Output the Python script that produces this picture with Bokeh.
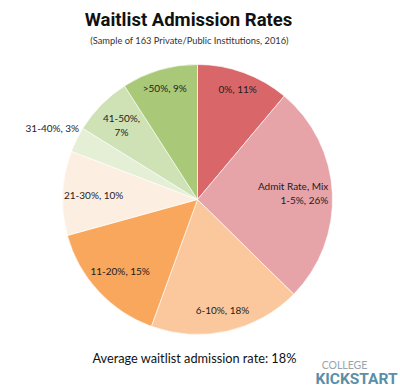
import math
from bokeh.plotting import figure
from bokeh.models import ColumnDataSource, Range1d, Label
from bokeh.core.properties import value
from bokeh.embed import file_html
from bokeh.resources import INLINE

# ---- data ----
categories = ["0%", "1-5%", "6-10%", "11-20%", "21-30%", "31-40%", "41-50%", ">50%"]
shares = [11, 26, 18, 15, 10, 3, 7, 9]
label_texts = ["0%, 11%", "Admit Rate, Mix\n1-5%, 26%", "6-10%, 18%", "11-20%, 15%",
               "21-30%, 10%", "31-40%, 3%", "41-50%,\n7%", ">50%, 9%"]
average_rate = 18

# ---- styles ----
colors = ["#d9676a", "#e6a3a8", "#fbc89e", "#f8a75c", "#fcefe2", "#e5efd5", "#cee2b6", "#a9c978"]
label_radius = [0.87, 0.97, 0.84, 0.78, 0.77, 1.2, 0.79, 0.86]
label_align = ["center", "right", "center", "center", "center", "center", "center", "center"]

W, H = 400, 388
cx, cy, R = 197, 189, 135

total = float(sum(shares))
starts, ends, lx, ly = [], [], [], []
acc = 0.0
for s, rf in zip(shares, label_radius):
    a0 = acc / total * 2 * math.pi
    acc += s
    a1 = acc / total * 2 * math.pi
    starts.append(math.pi / 2 - a0)
    ends.append(math.pi / 2 - a1)
    mid = (a0 + a1) / 2
    lx.append(cx + rf * R * math.sin(mid))
    ly.append(cy + rf * R * math.cos(mid))

src = ColumnDataSource(dict(cat=categories, share=shares, start=starts, end=ends,
                            color=colors, lx=lx, ly=ly, text=label_texts, align=label_align))

p = figure(width=W, height=H, output_backend="svg", toolbar_location=None,
           x_range=Range1d(0, W), y_range=Range1d(0, H), min_border=0)
p.axis.visible = False
p.grid.visible = False
p.outline_line_color = None
p.background_fill_color = "white"
p.border_fill_color = "white"

p.wedge(x=cx, y=cy, radius=R, start_angle="start", end_angle="end", direction="clock",
        fill_color="color", line_color="white", line_width=1, line_alpha=0.6, source=src)

p.text(x="lx", y="ly", text="text", source=src, text_align="align", text_baseline="middle",
       text_font=value("Lato"), text_font_size="10px", text_color="#241c1c", text_line_height=1.15)

p.add_layout(Label(x=188, y=369, text="Waitlist Admission Rates", text_align="center",
                   text_baseline="middle", text_font="Roboto",
                   text_font_style="bold", text_font_size="18.5px", text_color="#111111"))
p.add_layout(Label(x=189, y=348, text="(Sample of 163 Private/Public Institutions, 2016)",
                   text_align="center", text_baseline="middle", text_font="Lato",
                   text_font_size="9.3px", text_color="#333333"))
p.add_layout(Label(x=194, y=31, text="Average waitlist admission rate: %d%%" % average_rate,
                   text_align="center", text_baseline="middle", text_font="Lato",
                   text_font_size="12.75px", text_color="#111111"))
p.add_layout(Label(x=344, y=24, text="COLLEGE", text_align="center", text_baseline="middle",
                   text_font="Lato", text_font_size="10.5px", text_color="#9aa4a8"))
p.add_layout(Label(x=356, y=10, text="KICKSTART", text_align="center", text_baseline="middle",
                   text_font="Roboto", text_font_style="bold", text_font_size="15.5px",
                   text_color="#5b8fa6"))

open("out.html", "w").write(file_html(p, INLINE))
